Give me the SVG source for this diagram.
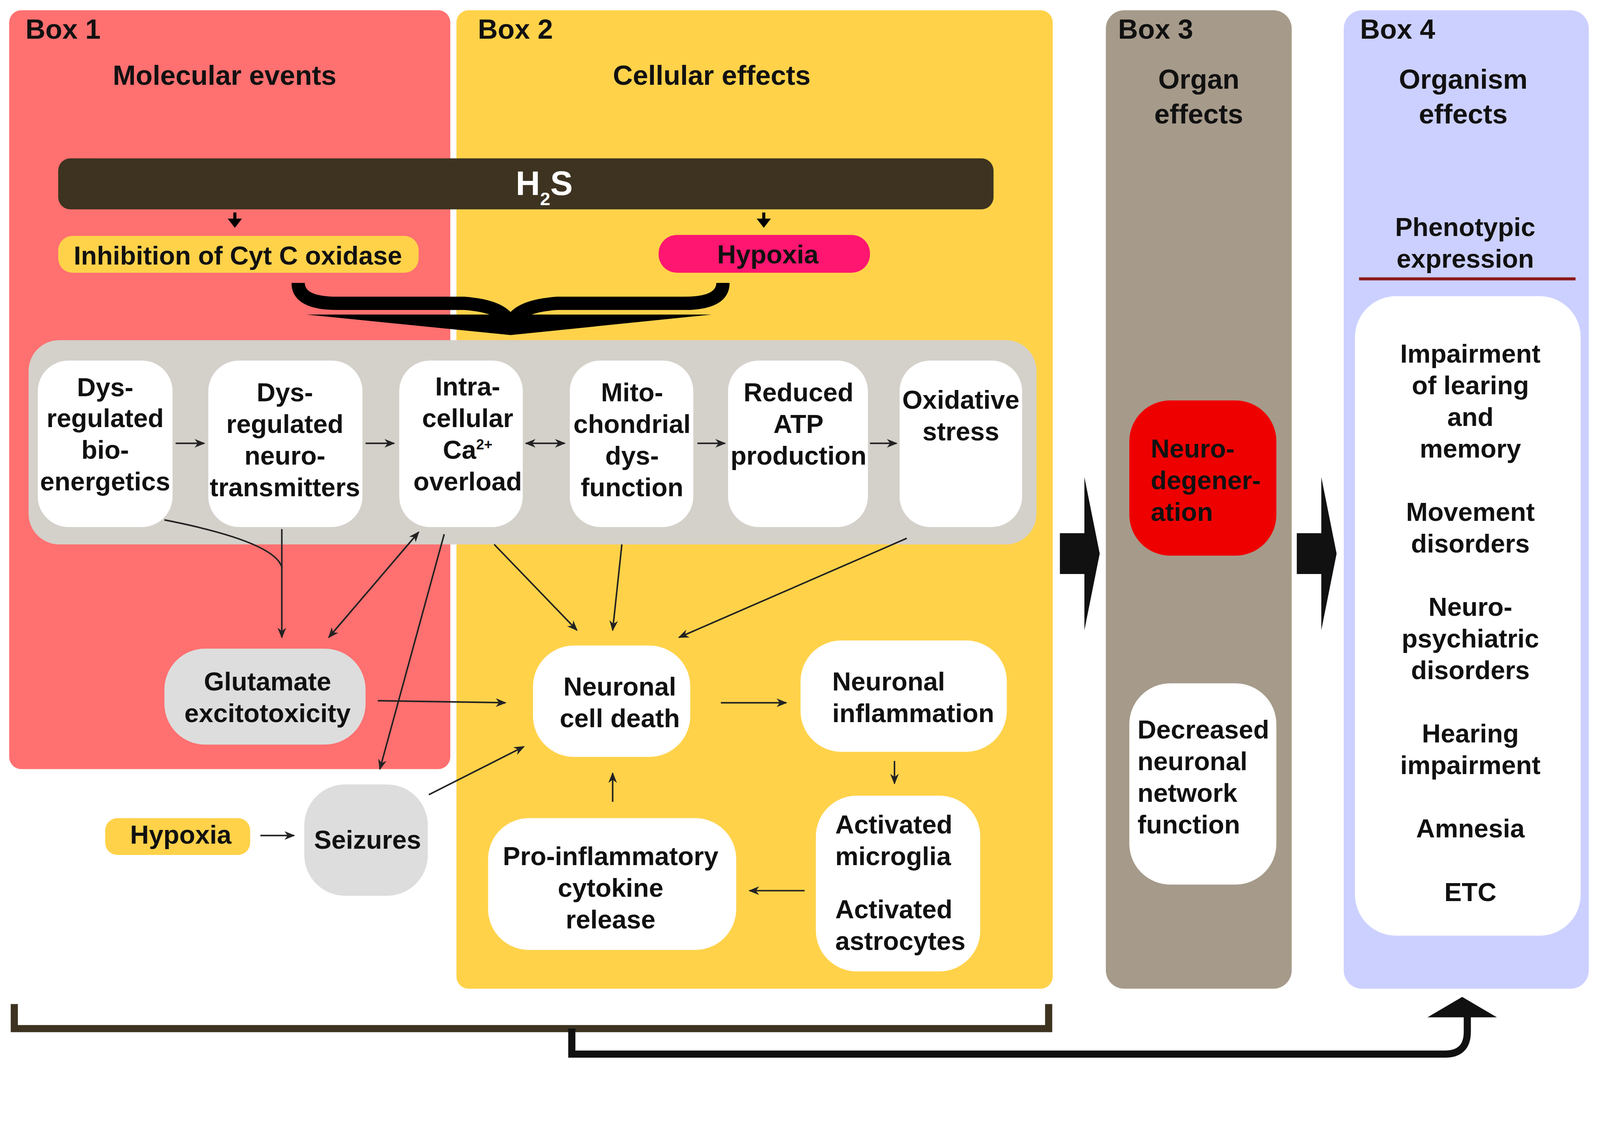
<svg xmlns="http://www.w3.org/2000/svg" width="4377" height="2920" viewBox="0 0 4377 2920">
<style>
text{font-family:"Liberation Sans",Arial,sans-serif;font-weight:bold;font-size:25.5px;fill:#111}
.c{text-anchor:middle}
.t{font-size:27px}
.w{fill:#fff}
.cn{fill:none;stroke:#222;stroke-width:1.5}
</style>
<defs>
<marker id="a" viewBox="0 0 10 10" refX="9" refY="5" markerWidth="7" markerHeight="7" orient="auto-start-reverse"><path d="M0,1 L10,5 L0,9 L3,5 Z" fill="#222"/></marker>
</defs>
<rect width="4377" height="2920" fill="#fff"/>
<g transform="scale(2.614)">
<g id="box1"><rect x="9" y="10" width="432" height="743" rx="12" fill="#FF7070"/>
<text x="25" y="38" class="t">Box 1</text><text x="220" y="83" class="c t">Molecular events</text></g>
<g id="box2"><rect x="447" y="10" width="584" height="958" rx="12" fill="#FFD24A"/>
<text x="468" y="38" class="t">Box 2</text><text x="697" y="83" class="c t">Cellular effects</text></g>
<g id="box3"><rect x="1083" y="10" width="182" height="958" rx="18" fill="#A69A8A"/>
<text x="1095" y="38" class="t">Box 3</text><text x="1174" y="87" class="c t">Organ</text><text x="1174" y="121" class="c t">effects</text></g>
<g id="box4"><rect x="1316" y="10" width="240" height="958" rx="18" fill="#CCD0FF"/>
<text x="1332" y="38" class="t">Box 4</text><text x="1433" y="87" class="c t">Organism</text><text x="1433" y="121" class="c t">effects</text>
<text x="1435" y="231" class="c">Phenotypic</text><text x="1435" y="262" class="c">expression</text>
<line x1="1331" y1="273" x2="1543" y2="273" stroke="#8B1A1A" stroke-width="3"/>
<rect x="1327" y="290" width="221" height="626" rx="40" fill="#fff"/>
<text x="1440" y="355" class="c">Impairment</text><text x="1440" y="386" class="c">of learing</text><text x="1440" y="417" class="c">and</text><text x="1440" y="448" class="c">memory</text>
<text x="1440" y="510" class="c">Movement</text><text x="1440" y="541" class="c">disorders</text>
<text x="1440" y="603" class="c">Neuro-</text><text x="1440" y="634" class="c">psychiatric</text><text x="1440" y="665" class="c">disorders</text>
<text x="1440" y="727" class="c">Hearing</text><text x="1440" y="758" class="c">impairment</text>
<text x="1440" y="820" class="c">Amnesia</text><text x="1440" y="882" class="c">ETC</text></g>
<g id="h2s"><rect x="57" y="155" width="916" height="50" rx="12" fill="#3D3320"/>
<text x="533" y="191" class="c w" style="font-size:33px">H<tspan dy="10" style="font-size:18px">2</tspan><tspan dy="-10">S</tspan></text>
<path d="M230 208 V216 M748 208 V216" stroke="#000" stroke-width="3"/>
<path d="M223 214 L237 214 L230 223 Z M741 214 L755 214 L748 223 Z" fill="#000"/></g>
<g id="cyt"><rect x="57" y="231" width="353" height="36" rx="14" fill="#FFD24A"/><text x="233" y="259" class="c">Inhibition of Cyt C oxidase</text></g>
<g id="hyp1"><rect x="645" y="230" width="207" height="37" rx="18" fill="#FF1670"/><text x="752" y="258" class="c">Hypoxia</text></g>
<g id="brace" fill="#000">
<path d="M292 277 Q292 297 330 297 L455 297 Q495 300 500 318 M708 277 Q708 297 670 297 L545 297 Q505 300 500 318" fill="none" stroke="#000" stroke-width="13"/>
<path d="M300 308 L697 308 L500 328 Z"/></g>
<g id="panel"><rect x="28" y="333" width="987" height="200" rx="30" fill="#D4D0CA"/></g>
<g id="n1"><rect x="37" y="353" width="132" height="163" rx="30" fill="#fff"/>
<text x="103" y="388" class="c">Dys-</text><text x="103" y="418" class="c">regulated</text><text x="103" y="449" class="c">bio-</text><text x="103" y="480" class="c">energetics</text></g>
<g id="n2"><rect x="204" y="353" width="151" height="163" rx="30" fill="#fff"/>
<text x="279" y="393" class="c">Dys-</text><text x="279" y="424" class="c">regulated</text><text x="279" y="455" class="c">neuro-</text><text x="279" y="486" class="c">transmitters</text></g>
<g id="n3"><rect x="391" y="353" width="121" height="163" rx="30" fill="#fff"/>
<text x="458" y="387" class="c">Intra-</text><text x="458" y="418" class="c">cellular</text><text x="458" y="449" class="c">Ca<tspan dy="-9" style="font-size:14px">2+</tspan></text><text x="458" y="480" class="c">overload</text></g>
<g id="n4"><rect x="558" y="353" width="121" height="163" rx="30" fill="#fff"/>
<text x="619" y="393" class="c">Mito-</text><text x="619" y="424" class="c">chondrial</text><text x="619" y="455" class="c">dys-</text><text x="619" y="486" class="c">function</text></g>
<g id="n5"><rect x="713" y="353" width="137" height="163" rx="30" fill="#fff"/>
<text x="782" y="393" class="c">Reduced</text><text x="782" y="424" class="c">ATP</text><text x="782" y="455" class="c">production</text></g>
<g id="n6"><rect x="881" y="353" width="120" height="163" rx="30" fill="#fff"/>
<text x="941" y="400" class="c">Oxidative</text><text x="941" y="431" class="c">stress</text></g>
<g id="glu"><rect x="161" y="635" width="197" height="94" rx="40" fill="#DDDDDD"/><text x="262" y="676" class="c">Glutamate</text><text x="262" y="707" class="c">excitotoxicity</text></g>
<g id="death"><rect x="522" y="632" width="154" height="109" rx="40" fill="#fff"/><text x="607" y="681" class="c">Neuronal</text><text x="607" y="712" class="c">cell death</text></g>
<g id="infl"><rect x="784" y="627" width="202" height="109" rx="40" fill="#fff"/><text x="815" y="676">Neuronal</text><text x="815" y="707">inflammation</text></g>
<g id="act"><rect x="799" y="779" width="161" height="172" rx="40" fill="#fff"/><text x="818" y="816">Activated</text><text x="818" y="847">microglia</text><text x="818" y="899">Activated</text><text x="818" y="930">astrocytes</text></g>
<g id="pro"><rect x="478" y="801" width="243" height="129" rx="40" fill="#fff"/><text x="598" y="847" class="c">Pro-inflammatory</text><text x="598" y="878" class="c">cytokine</text><text x="598" y="909" class="c">release</text></g>
<g id="seiz"><rect x="298" y="768" width="121" height="109" rx="40" fill="#DDDDDD"/><text x="360" y="831" class="c">Seizures</text></g>
<g id="hyp2"><rect x="103" y="801" width="142" height="36" rx="12" fill="#FFD24A"/><text x="177" y="826" class="c">Hypoxia</text></g>
<g id="neuro"><rect x="1106" y="392" width="144" height="152" rx="40" fill="#EE0000"/><text x="1127" y="448">Neuro-</text><text x="1127" y="479">degener-</text><text x="1127" y="510">ation</text></g>
<g id="dec"><rect x="1106" y="669" width="144" height="197" rx="40" fill="#fff"/><text x="1114" y="723">Decreased</text><text x="1114" y="754">neuronal</text><text x="1114" y="785">network</text><text x="1114" y="816">function</text></g>
<g id="connectors">
<path class="cn" marker-end="url(#a)" d="M172 434 H200"/>
<path class="cn" marker-end="url(#a)" d="M358 434 H386"/>
<path class="cn" marker-start="url(#a)" marker-end="url(#a)" d="M515 434 H553"/>
<path class="cn" marker-end="url(#a)" d="M683 434 H710"/>
<path class="cn" marker-end="url(#a)" d="M852 434 H878"/>
<path class="cn" marker-end="url(#a)" d="M161 509 Q268 530 276 555 L276 624"/>
<path class="cn" d="M276 518 V556"/>
<path class="cn" marker-start="url(#a)" marker-end="url(#a)" d="M322 624 L410 521"/>
<path class="cn" marker-end="url(#a)" d="M435 523 L372 753"/>
<path class="cn" marker-end="url(#a)" d="M484 533 L565 617"/>
<path class="cn" marker-end="url(#a)" d="M609 533 L600 617"/>
<path class="cn" marker-end="url(#a)" d="M888 527 L665 624"/>
<path class="cn" marker-end="url(#a)" d="M370 686 L495 688"/>
<path class="cn" marker-end="url(#a)" d="M420 778 L513 731"/>
<path class="cn" marker-end="url(#a)" d="M706 688 L770 688"/>
<path class="cn" marker-end="url(#a)" d="M876 745 V767"/>
<path class="cn" marker-end="url(#a)" d="M788 872 H734"/>
<path class="cn" marker-end="url(#a)" d="M600 785 V757"/>
<path class="cn" marker-end="url(#a)" d="M255 818 H288"/>
<path fill="#111" d="M1038 522 L1062 522 L1062 467 L1077 542 L1062 617 L1062 562 L1038 562 Z"/>
<path fill="#111" d="M1270 522 L1294 522 L1294 467 L1309 542 L1294 617 L1294 562 L1270 562 Z"/>
<path d="M14 983 V1007 H1027 V983" fill="none" stroke="#3D3320" stroke-width="7"/>
<path d="M560 1007 V1032 H1415 Q1437 1032 1437 1010 V994" fill="none" stroke="#111" stroke-width="7"/>
<path d="M1398 996 L1466 996 L1432 976 Z" fill="#111"/>
</g>
</g>
</svg>
